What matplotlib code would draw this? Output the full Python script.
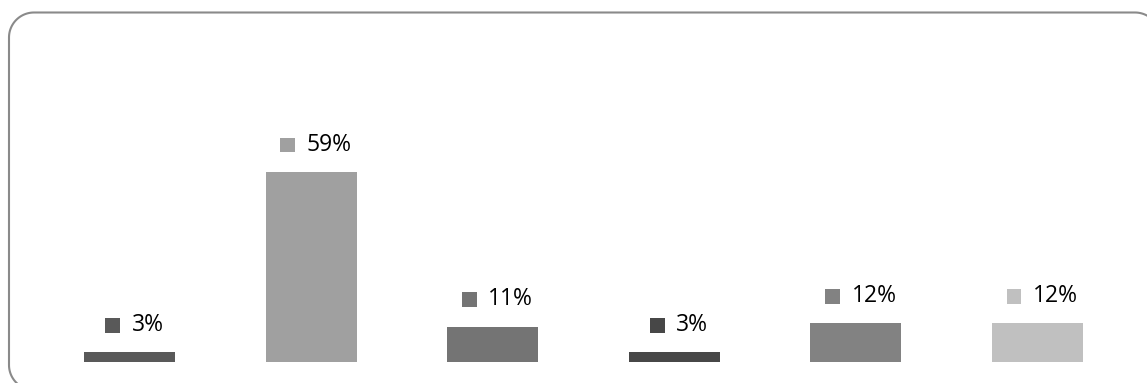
import numpy as np
import matplotlib.pyplot as plt
from matplotlib.lines import Line2D
from matplotlib.transforms import IdentityTransform
from matplotlib.patches import Rectangle
from matplotlib.offsetbox import AnnotationBbox, DrawingArea, TextArea, HPacker

plt.rcParams['font.family'] = ['Open Sans', 'DejaVu Sans']

# data
categories = ['A', 'B', 'C', 'D', 'E', 'F']
values = [3, 59, 11, 3, 12, 12]
labels = ['3%', '59%', '11%', '3%', '12%', '12%']
colors = ['#595959', '#a0a0a0', '#747474', '#474747', '#828282', '#c0c0c0']

W, H = 1147, 383
fig = plt.figure(figsize=(W / 100, H / 100), dpi=100)

# rounded frame in display pixels (y up); right and bottom run off the image
left, right, top, bottom, r = 9, 1160, H - 12.5, -7, 25
t = np.linspace(0, np.pi / 2, 30)
fx, fy = [], []
# bottom-left corner, left side, top-left corner
fx += list(left + r - r * np.sin(t)); fy += list(bottom + r - r * np.cos(t))
fx += list(left + r - r * np.cos(t)); fy += list(top - r + r * np.sin(t))
# top-right corner, right side, bottom-right corner
fx += list(right - r + r * np.sin(t)); fy += list(top - r + r * np.cos(t))
fx += list(right - r + r * np.cos(t)); fy += list(bottom + r - r * np.sin(t))
fx.append(fx[0]); fy.append(fy[0])
frame = Line2D(fx, fy, transform=IdentityTransform(), color='#8a8a8a',
               linewidth=1.5, solid_joinstyle='round')
fig.add_artist(frame)

ax = fig.add_axes([38.7 / W, (H - 362) / H, 1089.6 / W, 322 / H], zorder=1)
ax.set_facecolor('none')
x = range(len(categories))
ax.bar(x, values, width=0.5, color=colors)
ax.set_xlim(-0.5, len(categories) - 0.5)
ax.set_ylim(0, 100)
ax.axis('off')

for i in x:
    da = DrawingArea(10.5, 10.5, 0, 0)
    da.add_artist(Rectangle((0, 0), 10.5, 10.5, facecolor=colors[i], edgecolor='none'))
    ta = TextArea(labels[i], textprops=dict(fontsize=16.5, color='black'))
    box = HPacker(children=[da, ta], align='center', pad=0, sep=8.5)
    ab = AnnotationBbox(box, (i, values[i]), xybox=(3.5, 19.5),
                        xycoords='data', boxcoords='offset points',
                        box_alignment=(0.5, 0.5), frameon=False)
    ax.add_artist(ab)

fig.savefig('out.png', dpi=100)
